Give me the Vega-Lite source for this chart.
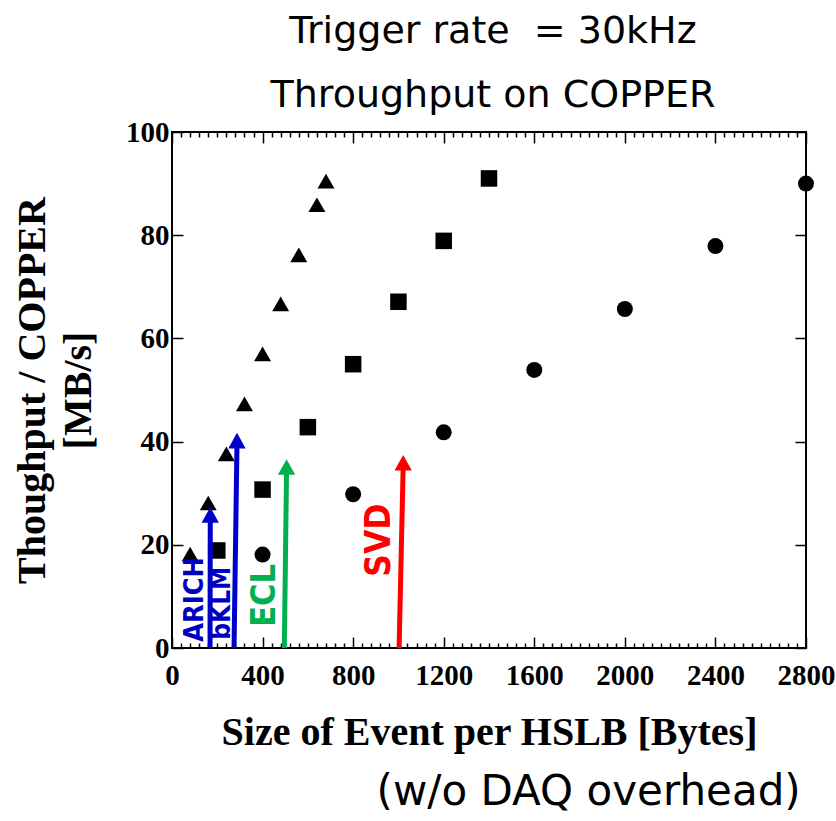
{
  "$schema": "https://vega.github.io/schema/vega-lite/v6.json",
  "width": 634,
  "height": 516,
  "autosize": "none",
  "padding": {"left": 172, "top": 132, "right": 30, "bottom": 173},
  "background": "white",
  "title": {
    "text": ["Trigger rate \u00a0= 30kHz", "Throughput on COPPER"],
    "font": "DejaVu Sans",
    "fontSize": 38,
    "fontWeight": "normal",
    "lineHeight": 64,
    "anchor": "middle",
    "color": "black",
    "offset": 3,
    "dx": 4
  },
  "config": {
    "view": {"stroke": "black", "strokeWidth": 2},
    "axis": {
      "domain": false,
      "grid": false,
      "labelFont": "Liberation Serif",
      "labelFontWeight": "bold",
      "labelFontSize": 29,
      "labelColor": "black",
      "tickColor": "black",
      "tickWidth": 1.5,
      "titleFont": "Liberation Serif",
      "titleFontWeight": "bold",
      "titleFontSize": 40,
      "titleColor": "black",
      "labelFlush": false,
      "labelOverlap": false
    }
  },
  "datasets": {
    "points": [
      {"series": "A", "size": 80, "thr": 18.2},
      {"series": "A", "size": 160, "thr": 28.1},
      {"series": "A", "size": 240, "thr": 37.6},
      {"series": "A", "size": 320, "thr": 47.3},
      {"series": "A", "size": 400, "thr": 57.0},
      {"series": "A", "size": 480, "thr": 66.7},
      {"series": "A", "size": 560, "thr": 76.2},
      {"series": "A", "size": 640, "thr": 85.9},
      {"series": "A", "size": 680, "thr": 90.5},
      {"series": "B", "size": 200, "thr": 18.9},
      {"series": "B", "size": 400, "thr": 30.7},
      {"series": "B", "size": 600, "thr": 42.8},
      {"series": "B", "size": 800, "thr": 55.0},
      {"series": "B", "size": 1000, "thr": 67.1},
      {"series": "B", "size": 1200, "thr": 78.9},
      {"series": "B", "size": 1400, "thr": 91.0},
      {"series": "C", "size": 400, "thr": 18.1},
      {"series": "C", "size": 800, "thr": 29.8},
      {"series": "C", "size": 1200, "thr": 41.8},
      {"series": "C", "size": 1600, "thr": 53.9},
      {"series": "C", "size": 2000, "thr": 65.7},
      {"series": "C", "size": 2400, "thr": 77.9},
      {"series": "C", "size": 2800, "thr": 90.0}
    ],
    "arrows": [
      {"det": "ARICH", "x0": 168, "x1": 169, "y0": 0, "shaftEnd": 25.5, "tip": 27.3, "color": "#0000CC"},
      {"det": "bKLM", "x0": 274, "x1": 287, "y0": 0, "shaftEnd": 39.5, "tip": 41.7, "color": "#0000CC"},
      {"det": "ECL", "x0": 496, "x1": 506, "y0": 0, "shaftEnd": 34.5, "tip": 36.6, "color": "#00B050"},
      {"det": "SVD", "x0": 1003, "x1": 1021, "y0": 0, "shaftEnd": 35.3, "tip": 37.4, "color": "#FF0000"}
    ],
    "labels": [
      {"label": "ARICH", "x": 137, "y": 1.2, "color": "#0000C0", "fs": 27},
      {"label": "bKLM", "x": 256, "y": 1.6, "color": "#0000C0", "fs": 26},
      {"label": "ECL", "x": 455, "y": 4.1, "color": "#00B050", "fs": 34},
      {"label": "SVD", "x": 962, "y": 13.8, "color": "#FF0000", "fs": 35}
    ],
    "note": [
      {"label": "(w/o DAQ overhead)", "x": 1840, "y": -30.4}
    ]
  },
  "resolve": {"axis": {"x": "independent", "y": "independent"}},
  "layer": [
    {
      "data": {"name": "points"},
      "mark": {"type": "point", "filled": true, "opacity": 1, "color": "black"},
      "encoding": {
        "x": {
          "field": "size", "type": "quantitative",
          "scale": {"domain": [0, 2800], "nice": false},
          "axis": {
            "orient": "bottom",
            "values": [0,40,80,120,160,200,240,280,320,360,400,440,480,520,560,600,640,680,720,760,800,840,880,920,960,1000,1040,1080,1120,1160,1200,1240,1280,1320,1360,1400,1440,1480,1520,1560,1600,1640,1680,1720,1760,1800,1840,1880,1920,1960,2000,2040,2080,2120,2160,2200,2240,2280,2320,2360,2400,2440,2480,2520,2560,2600,2640,2680,2720,2760,2800],
            "format": "d",
            "labelExpr": "datum.value % 400 === 0 ? datum.label : ''",
            "tickSize": {"condition": {"test": "datum.value % 400 === 0", "value": -11}, "value": -5},
            "labelPadding": 24,
            "title": "Size of Event per HSLB [Bytes]",
            "titlePadding": 16
          }
        },
        "y": {
          "field": "thr", "type": "quantitative",
          "scale": {"domain": [0, 100], "nice": false},
          "axis": {
            "orient": "left",
            "values": [0, 20, 40, 60, 80, 100],
            "format": "d",
            "tickSize": -11,
            "labelPadding": 14,
            "title": ["Thoughput / COPPER", "[MB/s]"],
            "titleLineHeight": 46,
            "titlePadding": 27
          }
        },
        "shape": {
          "field": "series", "type": "nominal",
          "scale": {"domain": ["A", "B", "C"], "range": ["triangle-up", "square", "circle"]},
          "legend": null
        },
        "size": {
          "field": "series", "type": "nominal",
          "scale": {"domain": ["A", "B", "C"], "range": [289, 256, 230]},
          "legend": null
        }
      }
    },
    {
      "data": {"name": "arrows"},
      "mark": {"type": "rule", "strokeWidth": 5},
      "encoding": {
        "x": {
          "field": "x0", "type": "quantitative",
          "scale": {"domain": [0, 2800], "nice": false},
          "axis": {
            "orient": "top",
            "values": [0,40,80,120,160,200,240,280,320,360,400,440,480,520,560,600,640,680,720,760,800,840,880,920,960,1000,1040,1080,1120,1160,1200,1240,1280,1320,1360,1400,1440,1480,1520,1560,1600,1640,1680,1720,1760,1800,1840,1880,1920,1960,2000,2040,2080,2120,2160,2200,2240,2280,2320,2360,2400,2440,2480,2520,2560,2600,2640,2680,2720,2760,2800],
            "labels": false,
            "tickSize": {"condition": {"test": "datum.value % 400 === 0", "value": -11}, "value": -5},
            "title": null
          }
        },
        "x2": {"field": "x1"},
        "y": {
          "field": "y0", "type": "quantitative",
          "scale": {"domain": [0, 100], "nice": false},
          "axis": {
            "orient": "right",
            "values": [0, 20, 40, 60, 80, 100],
            "labels": false,
            "tickSize": -11,
            "title": null
          }
        },
        "y2": {"field": "shaftEnd"},
        "color": {"field": "color", "type": "nominal", "scale": null}
      }
    },
    {
      "data": {"name": "arrows"},
      "mark": {"type": "point", "filled": true, "opacity": 1, "shape": "M0,0L-1,1.8L1,1.8Z", "size": 300},
      "encoding": {
        "x": {"field": "x1", "type": "quantitative", "scale": {"domain": [0, 2800], "nice": false}, "axis": null},
        "y": {"field": "tip", "type": "quantitative", "scale": {"domain": [0, 100], "nice": false}, "axis": null},
        "color": {"field": "color", "type": "nominal", "scale": null}
      }
    },
    {
      "data": {"name": "labels"},
      "mark": {"type": "text", "angle": 270, "align": "left", "baseline": "alphabetic", "font": "DejaVu Sans Condensed", "fontWeight": "bold"},
      "encoding": {
        "x": {"field": "x", "type": "quantitative", "scale": {"domain": [0, 2800], "nice": false}, "axis": null},
        "y": {"field": "y", "type": "quantitative", "scale": {"domain": [0, 100], "nice": false}, "axis": null},
        "text": {"field": "label"},
        "color": {"field": "color", "type": "nominal", "scale": null},
        "size": {"field": "fs", "type": "quantitative", "scale": null}
      }
    },
    {
      "data": {"name": "note"},
      "mark": {"type": "text", "align": "center", "baseline": "alphabetic", "font": "DejaVu Sans", "fontSize": 42, "color": "black"},
      "encoding": {
        "x": {"field": "x", "type": "quantitative", "scale": {"domain": [0, 2800], "nice": false}, "axis": null},
        "y": {"field": "y", "type": "quantitative", "scale": {"domain": [0, 100], "nice": false}, "axis": null},
        "text": {"field": "label"}
      }
    }
  ]
}
